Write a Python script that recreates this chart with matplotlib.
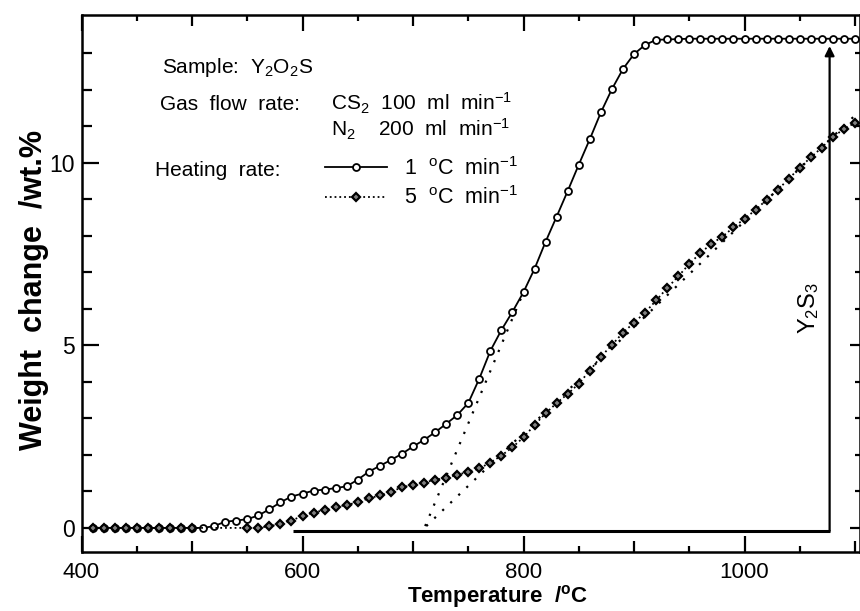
import numpy as np
import matplotlib
matplotlib.use('Agg')
from matplotlib import pyplot as plt
from matplotlib.lines import Line2D

# temperature grid of the recorded points, deg C
temps = np.arange(400, 1101, 10)

# weight change, 1 degC/min (solid, open circles)
gain_1 = [0, 0, 0, 0, 0, 0, 0, 0, 0, 0, 0, 0,
          0.05, 0.17, 0.20, 0.24, 0.34, 0.51, 0.70, 0.86, 0.94, 1.02,
          1.05, 1.09, 1.14, 1.32, 1.54, 1.70, 1.86, 2.03, 2.23, 2.41,
          2.62, 2.85, 3.09, 3.42, 4.09, 4.85, 5.42, 5.92, 6.46, 7.10,
          7.84, 8.53, 9.23, 9.95, 10.65, 11.38, 12.02, 12.57, 12.98, 13.23,
          13.37, 13.38, 13.39, 13.40, 13.40, 13.40, 13.40, 13.40, 13.40, 13.40,
          13.40, 13.40, 13.40, 13.40, 13.40, 13.40, 13.40, 13.40, 13.40]

# weight change, 5 degC/min (dotted, diamonds)
gain_5 = [0, 0, 0, 0, 0, 0, 0, 0, 0, 0, 0, 0, 0, 0, 0, 0, 0,
          0.05, 0.10, 0.20, 0.33, 0.42, 0.49, 0.57, 0.63, 0.70, 0.81,
          0.89, 0.99, 1.11, 1.18, 1.24, 1.32, 1.37, 1.45, 1.54, 1.63,
          1.79, 1.98, 2.21, 2.48, 2.82, 3.14, 3.42, 3.67, 3.95, 4.31,
          4.69, 5.01, 5.35, 5.62, 5.90, 6.23, 6.57, 6.89, 7.23, 7.53,
          7.78, 7.98, 8.23, 8.47, 8.71, 8.99, 9.26, 9.56, 9.87, 10.15,
          10.42, 10.72, 10.92, 11.10]

# points that carry a marker on the 5 degC/min curve (none at 520-540)
marks_5 = list(range(1, 11)) + list(range(15, 71))

# dotted tangent (onset) lines
tangent_1_x, tangent_1_y = [711, 800], [0.05, 6.46]
tangent_2_x, tangent_2_y = [712, 1100], [0.05, 11.30]

# Y2S3 reference: baseline and arrow
base_x, base_y = [591, 1077], [-0.08, -0.08]
arrow_x, arrow_y0, arrow_y1 = 1077, -0.08, 13.2

W, H = 860, 611

plt.rcParams['font.family'] = ['Liberation Sans', 'DejaVu Sans']
plt.rcParams['mathtext.fontset'] = 'custom'
plt.rcParams['mathtext.rm'] = 'Liberation Sans'
plt.rcParams['mathtext.it'] = 'Liberation Sans:italic'
plt.rcParams['mathtext.bf'] = 'Liberation Sans:bold'

fig = plt.figure(figsize=(W / 100, H / 100), dpi=100)
ax = fig.add_axes([81.5 / W, 1 - 552 / H, (W - 81.5) / W, (552 - 15) / H])


def fpos(px, py):
    """pixel position in the picture -> figure fraction"""
    return px / W, 1 - py / H


line1, = ax.plot(temps, gain_1, '-', color='black', lw=1.3, marker='o',
                 ms=5, mfc='white', mec='black', mew=1.3,
                 markevery=slice(1, None), zorder=3)
line5, = ax.plot(temps, gain_5, ':', color='black', lw=1.3, marker='D',
                 ms=4.5, mfc='0.5', mec='black', mew=1.6,
                 markevery=marks_5, zorder=4)

ax.plot(tangent_1_x, tangent_1_y, color='black', lw=1.6,
        linestyle=(0, (1, 4)), zorder=2)
ax.plot(tangent_2_x, tangent_2_y, color='black', lw=1.6,
        linestyle=(0, (1, 4)), zorder=2)

ax.plot(base_x, base_y, color='black', lw=2.2, solid_capstyle='butt')
ax.annotate('', xy=(arrow_x, arrow_y1), xytext=(arrow_x, arrow_y0),
            arrowprops=dict(arrowstyle='-|>', color='black', lw=1.6,
                            mutation_scale=14, shrinkA=0, shrinkB=0))
ax.text(1058, 6.03, 'Y$\\mathregular{_2}$S$\\mathregular{_3}$', rotation=90,
        ha='center', va='center', fontsize=17)

ax.set_xlim(400, 1104.5)
ax.set_ylim(-0.66, 14.05)

# x ticks: long at 200, medium at 100, short at 50
ax.set_xticks(np.arange(400, 1101, 100))
ax.set_xticklabels(['400', '', '600', '', '800', '', '1000', ''])
ax.set_xticks(np.arange(450, 1101, 100), minor=True)
ax.set_yticks([0, 5, 10])
ax.set_yticks([1, 2, 3, 4, 6, 7, 8, 9, 11, 12, 13], minor=True)

ax.tick_params(axis='both', which='both', direction='in', width=1.6,
               labelsize=16.5, top=True, right=True)
ax.tick_params(axis='x', which='major', length=11.3, pad=7, labelsize=16)
ax.tick_params(axis='x', which='minor', length=4.3)
ax.tick_params(axis='y', which='major', length=12, pad=5)
ax.tick_params(axis='y', which='minor', length=7.5)

for t, v in zip(ax.xaxis.get_major_ticks(), np.arange(400, 1101, 100)):
    if v % 200:
        t.tick1line.set_markersize(7.9)
        t.tick2line.set_markersize(7.9)
for t in ax.yaxis.get_major_ticks():
    t.tick2line.set_markersize(7)
for t in ax.yaxis.get_minor_ticks():
    t.tick2line.set_markersize(3.5)

for s in ax.spines.values():
    s.set_linewidth(1.8)

ax.set_xlabel('Temperature  /$\\mathregular{^o}$C', fontsize=16,
              fontweight='bold')
ax.xaxis.set_label_coords(0.535, -0.057)
ax.set_ylabel('Weight  change  /wt.%', fontsize=22, fontweight='bold')
ax.yaxis.set_label_coords(-0.042, 0.488)

tk = dict(fontsize=15, ha='left', va='baseline', transform=fig.transFigure)
fig.text(*fpos(162, 73), 'Sample:  Y$\\mathregular{_2}$O$\\mathregular{_2}$S', **tk)
fig.text(*fpos(160, 110), 'Gas  flow  rate:', **tk)
fig.text(*fpos(331, 110),
         'CS$\\mathregular{_2}$  100  ml  min$\\mathregular{^{-1}}$', **tk)
fig.text(*fpos(331, 137),
         'N$\\mathregular{_2}$    200  ml  min$\\mathregular{^{-1}}$', **tk)
fig.text(*fpos(155, 176), 'Heating  rate:', **tk)

h1 = Line2D([], [], color='black', lw=1.3, marker='o', ms=5, mfc='white',
            mec='black', mew=1.3)
h5 = Line2D([], [], color='black', lw=1.3, ls=':', marker='D', ms=4.5,
            mfc='0.5', mec='black', mew=1.6)
ax.legend([h1, h5], ['1  $\\mathregular{^o}$C  min$\\mathregular{^{-1}}$',
                     '5  $\\mathregular{^o}$C  min$\\mathregular{^{-1}}$'],
          loc='upper left', bbox_to_anchor=fpos(325, 157),
          bbox_transform=fig.transFigure, frameon=False, fontsize=15.5,
          handlelength=2.9, handletextpad=0.75, labelspacing=0.3,
          borderpad=0, borderaxespad=0, numpoints=1)

fig.savefig('out.png', dpi=100)
